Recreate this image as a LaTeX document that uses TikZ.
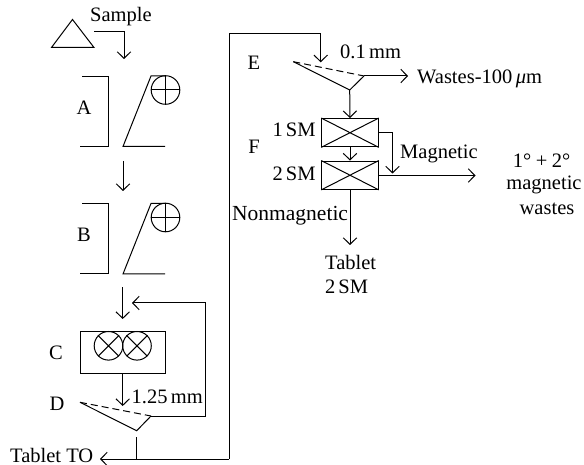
\documentclass[tikz,border=0pt]{standalone}
\usepackage{fontspec}
\setmainfont{Liberation Serif}
\usetikzlibrary{arrows.meta}
\tikzset{
  ln/.style={line width=1pt,line join=miter},
  arr/.style={ln,-{Straight Barb[length=6.5pt,width=13.5pt,line width=1pt]}},
  lab/.style={inner sep=0pt,anchor=base west,font=\fontsize{20.5}{24}\selectfont},
  labc/.style={inner sep=0pt,anchor=base,font=\fontsize{20.5}{24}\selectfont},
  labe/.style={inner sep=0pt,anchor=base east,font=\fontsize{20.5}{24}\selectfont},
  crossbox/.style={draw,ln,rectangle,inner sep=0pt,minimum width=56.5pt,minimum height=28.3pt},
  wheel/.style={draw,ln,circle,inner sep=0pt,minimum size=28.6pt},
  screenline/.style={ln},
  dashline/.style={ln,dash pattern=on 7pt off 4pt}
}
\begin{document}
\begin{tikzpicture}[x=1pt,y=-1pt]
\useasboundingbox (0,0) rectangle (584,465);
% Sample
\draw[ln] (51.5,47.5) -- (72.5,19.5) -- (94,47.5) -- cycle;
\node[lab] (sample) at (90,22) {Sample};
\coordinate (s0) at (94,32);
\coordinate (s1) at (124,59);
\draw[arr] (s0) -| (s1);
% A
\node[labc] (lA) at (84,114.5) {A};
\draw[ln] (82,76.5) -- (108.5,76.5) -- (108.5,146.5) -- (80,146.5);
\node[wheel] (wA) at (165.5,90) {};
\draw[ln] (wA.north) -- (wA.south) (wA.west) -- (wA.east);
\draw[ln] (165,76) -- (151,76) -- (123,146.5) -- (165,146.5);
\coordinate (a0) at (123,161);
\coordinate (a1) at (123,191);
\draw[arr] (a0) -- (a1);
% B
\node[labc] (lB) at (84,242) {B};
\draw[ln] (82,204) -- (108.5,204) -- (108.5,274) -- (80,274);
\node[wheel] (wB) at (165.5,217.5) {};
\draw[ln] (wB.north) -- (wB.south) (wB.west) -- (wB.east);
\draw[ln] (165,203.5) -- (151,203.5) -- (123,274) -- (165,274);
\coordinate (b0) at (122.7,287.5);
\coordinate (b1) at (122.7,319);
\draw[arr] (b0) -- (b1);
% C
\node[labc] (lC) at (56,359) {C};
\node[draw,ln,rectangle,inner sep=0pt,minimum width=85pt,minimum height=42.7pt] (boxC) at (122.5,352.6) {};
\node[wheel] (c1) at (108.5,345.8) {};
\node[wheel] (c2) at (137,345.8) {};
\foreach \c in {c1,c2}{
  \draw[ln] (\c.north west) -- (\c.south east) (\c.north east) -- (\c.south west);
}
\coordinate (cout) at (122.7,406);
\draw[arr] (boxC.south -| cout) -- (cout);
\node[lab] (m125) at (131.5,403) {1.25\,mm};
% D
\node[labc] (lD) at (57,410.5) {D};
\coordinate (d0) at (80,402.3);
\coordinate (d1) at (136.7,430.7);
\coordinate (d2) at (151,416);
\draw[screenline] (d0) -- (d1) -- (d2);
\draw[dashline] (d0) -- (d2);
\coordinate (fb1) at (205,303);
\coordinate (fbtip) at (132,303);
\draw[arr] (d2) -| (fb1) -- (fbtip);
% Tablet TO and link to E
\node[lab] (tabTO) at (10,462) {Tablet TO};
\coordinate (t0) at (136.7,437);
\coordinate (t1) at (136.7,459);
\coordinate (tt) at (100,459);
\coordinate (r1) at (229,459);
\coordinate (r2) at (229,33.3);
\coordinate (etip) at (320.7,62.3);
\draw[ln] (t0) -- (t1);
\draw[arr] (r1) -- (tt);
\draw[arr] (r1) -- (r2) -| (etip);
% E
\node[labc] (lE) at (254,69.5) {E};
\node[lab] (m01) at (340,59) {0.1\,mm};
\coordinate (e0) at (293.3,61.7);
\coordinate (e1) at (349.7,90);
\coordinate (e2) at (364,76);
\draw[screenline] (e0) -- (e1) -- (e2);
\draw[dashline] (e0) -- (e2);
\coordinate (w) at (408,76);
\draw[arr] (e2) -- (w);
\node[lab] (wastes) at (417,84) {Wastes-100\,{\itshape μ}m};
% F
\node[labc] (lF) at (254,154) {F};
\node[crossbox] (sm1) at (350,132.7) {};
\draw[ln] (sm1.north west) -- (sm1.south east) (sm1.north east) -- (sm1.south west);
\node[crossbox] (sm2) at (350,175.2) {};
\draw[ln] (sm2.north west) -- (sm2.south east) (sm2.north east) -- (sm2.south west);
\node[labe] (l1sm) at (315.7,136.7) {1\hspace{3pt}SM};
\node[labe] (l2sm) at (315.7,180.7) {2\hspace{3pt}SM};
\draw[arr] (e1) -- (sm1.north);
\draw[arr] (sm1.south) -- (sm2.north);
\coordinate (mg) at (392.5,173.5);
\draw[arr] (sm1.east) -| (mg);
\node[lab] (magn) at (400,159) {Magnetic};
\coordinate (o) at (475.5,175.5);
\draw[arr] (sm2.east |- o) -- (o);
\coordinate (n) at (350,245);
\draw[arr] (sm2.south) -- (n);
\node[lab,font=\fontsize{21.5}{24}\selectfont] (nonm) at (232,220.7) {Nonmagnetic};
\node[lab] (tab2) at (325,270) {Tablet};
\node[lab] (tab2b) at (325,294) {2\hspace{3pt}SM};
\node[lab] (deg) at (512.7,168) {1°\hspace{4.5pt}+\hspace{4.5pt}2°};
\node[labc] (mw1) at (544,190) {magnetic};
\node[labc] (mw2) at (547,215) {wastes};
\end{tikzpicture}
\end{document}
